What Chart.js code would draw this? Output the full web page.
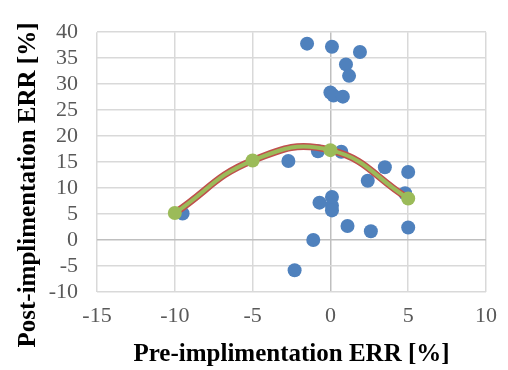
<!DOCTYPE html>
<html>
<head>
<meta charset="utf-8">
<script src="https://cdn.jsdelivr.net/npm/chart.js@4/dist/chart.umd.min.js"></script>
<style>
  html, body { margin: 0; padding: 0; background: #fff; }
  #wrap { width: 508px; height: 370px; }
</style>
</head>
<body>
<div id="wrap"><canvas id="errChart"></canvas></div>
<script>
// measured ERR pairs (pre, post)
const preErr = [-9.5, -2.7, -1.5, 0.1, 1.9, 1.0, 1.2, 0.0, 0.2, 0.8,
  -0.8, 0.7, 3.5, 5.0, 2.4, 4.8, -0.7, 0.1, 0.1, 0.1, 1.1, 2.6, 5.0, -1.1, -2.3];
const postErr = [5.1, 15.2, 37.8, 37.2, 36.2, 33.8, 31.6, 28.4, 27.8, 27.6,
  17.1, 17.0, 14.0, 13.1, 11.4, 9.0, 7.2, 8.3, 6.6, 5.7, 2.7, 1.7, 2.4, 0.0, -5.8];

// fitted trend
const trendPre = [-10, -5, 0, 5];
const trendPost = [5.2, 15.3, 17.3, 8.0];

const xTicks = [-15, -10, -5, 0, 5, 10];
const yTicks = [-10, -5, 0, 5, 10, 15, 20, 25, 30, 35, 40];

const points = preErr.map((x, i) => ({ x: x, y: postErr[i] }));
const trend = trendPre.map((x, i) => ({ x: x, y: trendPost[i] }));

const gridColor = (c) => (c.tick && c.tick.value === 0 ? "#bfbfbf" : "#d9d9d9");
const tickFont = { family: "'Liberation Serif'", size: 22 };
const titleFont = { family: "'Liberation Serif'", size: 25, weight: "bold" };

// y title is centred on the whole canvas height, not on the plot area
const yTitlePlugin = {
  id: "yTitle",
  afterDraw(chart) {
    const c = chart.ctx;
    c.save();
    c.translate(29, chart.height / 2);
    c.rotate(-Math.PI / 2);
    c.font = "bold 25px 'Liberation Serif'";
    c.fillStyle = "#000";
    c.textAlign = "center";
    c.textBaseline = "middle";
    c.fillText("Post-implimentation ERR [%]", 0, 0);
    c.restore();
  },
};

const ctx = document.getElementById("errChart").getContext("2d");
const errChart = new Chart(ctx, {
  type: "scatter",
  data: {
    datasets: [
      {
        label: "ERR",
        data: points,
        backgroundColor: "#4f81bd",
        borderWidth: 0,
        pointRadius: 7,
        order: 3,
      },
      {
        // red outline under the trend line
        label: "trend outline",
        data: trend,
        showLine: true,
        tension: 0.45,
        borderColor: "#c0504d",
        borderWidth: 7,
        pointRadius: 0,
        order: 2,
      },
      {
        label: "trend",
        data: trend,
        showLine: true,
        tension: 0.45,
        borderColor: "#9bbb59",
        borderWidth: 4,
        backgroundColor: "#9bbb59",
        pointBorderWidth: 0,
        pointRadius: 7,
        order: 1,
      },
    ],
  },
  options: {
    responsive: true,
    maintainAspectRatio: false,
    animation: false,
    layout: { padding: { top: 15, right: 16, left: 0, bottom: 0 } },
    plugins: {
      legend: { display: false },
      tooltip: { enabled: false },
    },
    scales: {
      x: {
        type: "linear",
        min: -15,
        max: 10,
        afterBuildTicks: (s) => { s.ticks = xTicks.map((v) => ({ value: v })); },
        afterFit: (s) => { s.height = 78; },
        border: { display: false },
        grid: { color: gridColor, lineWidth: 1.5, drawTicks: false },
        ticks: { autoSkip: false, maxRotation: 0, padding: 11, color: "#595959", font: tickFont },
        title: {
          display: true,
          text: "Pre-implimentation ERR [%]",
          color: "#000",
          font: titleFont,
          padding: { top: 0, bottom: 0 },
        },
      },
      y: {
        type: "linear",
        min: -10,
        max: 40,
        afterBuildTicks: (s) => { s.ticks = yTicks.map((v) => ({ value: v })); },
        afterFit: (s) => { s.width = 97; },
        border: { display: false },
        grid: { color: gridColor, lineWidth: 1.5, drawTicks: false },
        ticks: { autoSkip: false, padding: 19, color: "#595959", font: tickFont },
      },
    },
  },
  plugins: [yTitlePlugin],
});
</script>
</body>
</html>
